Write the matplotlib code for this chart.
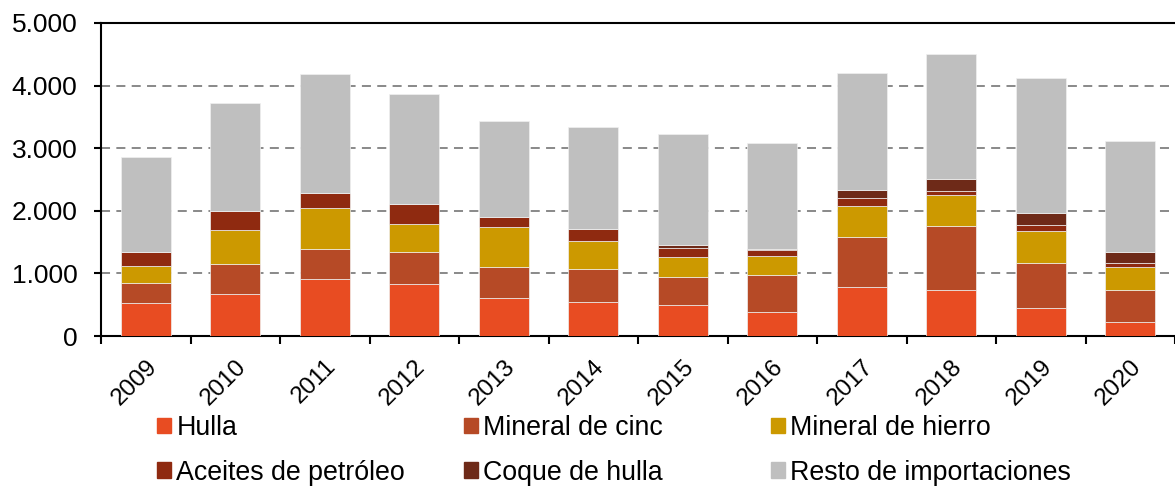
import numpy as np
import matplotlib
matplotlib.use("Agg")
import matplotlib.pyplot as plt
from matplotlib.patches import Patch
from matplotlib.ticker import FuncFormatter

years = ['2009', '2010', '2011', '2012', '2013', '2014',
         '2015', '2016', '2017', '2018', '2019', '2020']

hulla = [522, 668, 908, 828, 604, 540, 498, 391, 780, 727, 455, 216]
cinc = [329, 475, 485, 507, 491, 523, 437, 576, 794, 1033, 714, 521]
hierro = [272, 548, 650, 452, 644, 452, 330, 314, 506, 491, 506, 363]
aceites = [224, 309, 240, 325, 165, 187, 143, 90, 117, 64, 91, 59]
coque = [0, 0, 0, 0, 0, 5, 38, 16, 139, 186, 202, 181]
resto = [1517, 1720, 1907, 1754, 1536, 1630, 1779, 1696, 1867, 2003, 2156, 1774]

names = ['Hulla', 'Mineral de cinc', 'Mineral de hierro',
         'Aceites de petróleo', 'Coque de hulla', 'Resto de importaciones']
colors = ['#E84C22', '#B64A26', '#CC9900', '#8F2A10', '#6E2A18', '#BFBFBF']

plt.rcParams['font.family'] = ['Liberation Sans', 'DejaVu Sans']

fig = plt.figure(figsize=(11.75, 4.87), dpi=100)
ax = fig.add_axes([101 / 1175, 1 - 336 / 487, 1 - 101 / 1175, (336 - 23) / 487])

x = np.arange(len(years))
bottom = np.zeros(len(years))
for vals, col in zip([hulla, cinc, hierro, aceites, coque, resto], colors):
    ax.bar(x, vals, width=0.556, bottom=bottom, color=col,
           edgecolor='#f0f0f0', linewidth=0.5, zorder=3)
    bottom += np.array(vals)

ax.set_ylim(0, 5000)
ax.set_xlim(-0.5, 11.44)
ax.set_yticks([0, 1000, 2000, 3000, 4000, 5000])
ax.yaxis.set_major_formatter(FuncFormatter(lambda v, p: f'{int(v):,}'.replace(',', '.')))
ax.yaxis.grid(True, color='#808080', linestyle=(0, (5, 3.5)), linewidth=1.3, zorder=0)

ax.set_xticks(np.arange(-0.5, 12, 1))
ax.set_xticklabels([])
ax.set_xticks(x, minor=True)
ax.set_xticklabels(years, minor=True, rotation=45, ha='right',
                   rotation_mode='anchor', fontsize=17.5)
ax.tick_params(axis='x', which='major', length=6, width=1.5, direction='out')
ax.tick_params(axis='x', which='minor', length=0, pad=14)
ax.tick_params(axis='y', length=5, width=1.5, labelsize=19, pad=12)

ax.spines['right'].set_visible(False)
for s in ['left', 'bottom', 'top']:
    ax.spines[s].set_linewidth(1.5)

# legend in three fixed-width columns, like the original
cols = [(0, 3), (1, 4), (2, 5)]
xs = [157, 464, 771]
for (a, b), xp in zip(cols, xs):
    handles = [Patch(color=colors[a], label=names[a]), Patch(color=colors[b], label=names[b])]
    fig.legend(handles=handles, loc='upper left',
               bbox_to_anchor=(xp / 1175, 1 - 415 / 487),
               frameon=False, fontsize=19.3, handlelength=0.52, handleheight=0.52,
               handletextpad=0.2, labelspacing=0.7, borderpad=0, borderaxespad=0)

fig.savefig('out.png', dpi=100)
